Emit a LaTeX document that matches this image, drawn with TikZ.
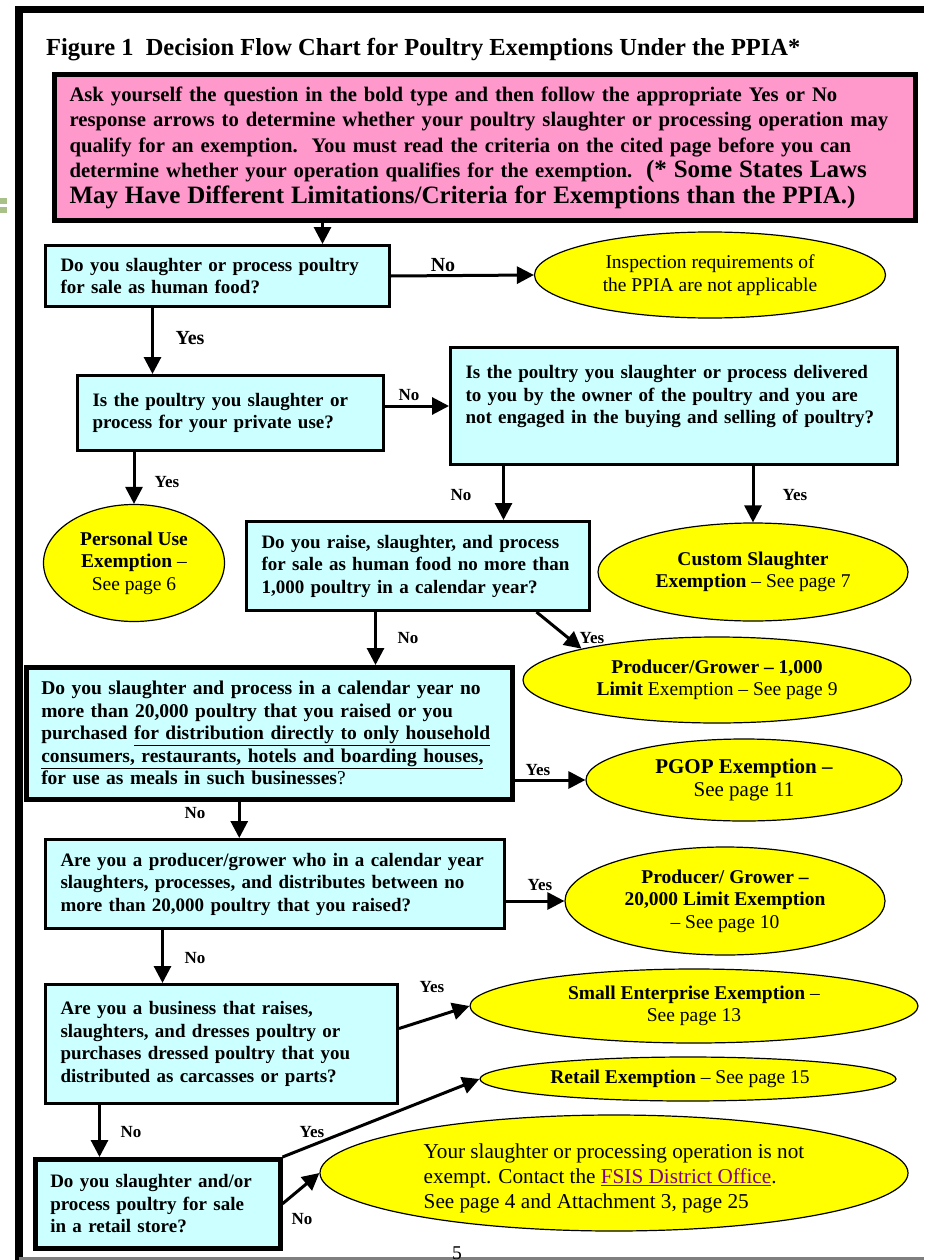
\documentclass[tikz,border=0pt]{standalone}
\usepackage{fontspec}
\setmainfont{Liberation Serif}
\usetikzlibrary{arrows.meta,shapes.geometric}
\definecolor{pinkfill}{HTML}{FF99CC}
\definecolor{cyanfill}{HTML}{CCFFFF}
\definecolor{yellowfill}{HTML}{FFFF00}
\definecolor{linkpurple}{HTML}{800080}
\definecolor{greenmark}{HTML}{A9C089}
\definecolor{frameline}{HTML}{7F7F7F}
\hyphenpenalty=10000
\exhyphenpenalty=10000

\begin{document}
\begin{tikzpicture}[x=1pt,y=-1pt,>={Triangle[length=17pt,width=17pt]}]
%% box shapes and colors
\tikzstyle{question}=[draw=black,line width=3pt,fill=cyanfill,anchor=north west,inner xsep=15pt,inner ysep=0pt,align=left,font=\fontsize{19}{22.5}\selectfont\bfseries]
\tikzstyle{exempt}=[ellipse,draw=black,line width=1.2pt,fill=yellowfill,inner sep=0pt,align=center,font=\fontsize{19.5}{22.5}\selectfont]
\tikzstyle{answer}=[inner sep=0pt,font=\fontsize{17}{17}\selectfont\bfseries]
\tikzstyle{arrow}=[->,line width=3pt]
\useasboundingbox (0,0) rectangle (924,1260);
%PAGE
\fill[greenmark] (0,198) rectangle (7,204);
\fill[greenmark] (0,207) rectangle (7,213);
\draw[line width=7pt] (15,9.5) -- (924,9.5);
\draw[line width=8pt] (19,6) -- (19,1260);
\draw[frameline,line width=3pt] (19,1258.5) -- (924,1258.5);
\node[anchor=north,inner sep=0pt,font=\fontsize{19.5}{20}\selectfont] (pagenum) at (457,1247) {5};
%%%%%%%%%%%%%%%%%%%%%%%%%%%%%%%%%%%%%%%%%%%%%%%%%%%%%%%%%%%%%%%%%%%%%%%%
%TITLE
\node[anchor=west,inner sep=0pt,font=\fontsize{24.5}{26}\selectfont\bfseries] (title) at (46,50)
  {Figure 1\ \ Decision Flow Chart for Poultry Exemptions Under the PPIA*};
\node[draw=black,line width=5pt,fill=pinkfill,anchor=north west,minimum width=861pt,minimum height=146pt,text width=831pt,inner xsep=15pt,inner ysep=0pt,align=left,font=\fontsize{20.7}{25.5}\selectfont\bfseries] (intro) at (52,72)
  {Ask yourself the question in the bold type and then follow the appropriate Yes or No\\
   response arrows to determine whether your poultry slaughter or processing operation may\\
   qualify for an exemption.\ \ You must read the criteria on the cited page before you can\\
   determine whether your operation qualifies for the exemption.\ \ {\fontsize{25}{25.5}\selectfont(* Some States Laws}\\
   {\fontsize{25}{25.5}\selectfont May Have Different Limitations/Criteria for Exemptions than the PPIA.)}};

%%%%%%%%%%%%%%%%%%%%%%%%%%%%%%%%%%%%%%%%%%%%%%%%%%%%%%%%%%%%%%%%%%%%%%%%
%QUESTIONS
\node[question,minimum width=344pt,minimum height=61pt,text width=314pt] (question1) at (44,244)
  {Do you slaughter or process poultry\\ for sale as human food?};
\node[question,minimum width=306pt,minimum height=75pt,text width=276pt] (question2) at (76,374)
  {Is the poultry you slaughter or\\ process for your private use?};
\node[question,minimum width=447pt,minimum height=117pt,text width=417pt] (question3) at (449,346)
  {Is the poultry you slaughter or process delivered\\ to you by the owner of the poultry and you are\\ not engaged in the buying and selling of poultry?\\ \mbox{}};
\node[question,minimum width=343pt,minimum height=89pt,text width=313pt] (question4) at (245,520)
  {Do you raise, slaughter, and process\\ for sale as human food no more than\\ 1,000 poultry in a calendar year?};
\node[question,line width=4.5pt,minimum width=486pt,minimum height=132pt,text width=456pt,font=\fontsize{19.5}{22.5}\selectfont\bfseries] (question5) at (24,665)
  {Do you slaughter and process in a calendar year no\\ more than 20,000 poultry that you raised or you\\ purchased \underline{for distribution directly to only household}\\ \underline{consumers, restaurants, hotels and boarding houses,}\\ for use as meals in such businesses{\mdseries ?}};
\node[question,minimum width=459pt,minimum height=89pt,text width=429pt] (question6) at (44,838)
  {Are you a producer/grower who in a calendar year\\ slaughters, processes, and distributes between no\\ more than 20,000 poultry that you raised?};
\node[question,minimum width=352pt,minimum height=119pt,text width=322pt] (question7) at (44,983)
  {Are you a business that raises,\\ slaughters, and dresses poultry or\\ purchases dressed poultry that you\\ distributed as carcasses or parts?};
\node[question,line width=4.5pt,minimum width=245pt,minimum height=89pt,text width=215pt] (question8) at (33,1157)
  {Do you slaughter and/or\\ process poultry for sale\\ in a retail store?};

%%%%%%%%%%%%%%%%%%%%%%%%%%%%%%%%%%%%%%%%%%%%%%%%%%%%%%%%%%%%%%%%%%%%%%%%
%EXEMPTIONS
\node[exempt,minimum width=351pt,minimum height=86pt] (exempt0) at (710,275)
  {Inspection requirements of\\ the PPIA are not applicable};
\node[exempt,minimum width=181pt,minimum height=117pt] (exempt1) at (134,563)
  {\textbf{Personal Use}\\ \textbf{Exemption} --\\ See page 6};
\node[exempt,minimum width=310pt,minimum height=98pt] (exempt2) at (753,572)
  {\textbf{Custom Slaughter}\\ \textbf{Exemption} -- See page 7};
\node[exempt,minimum width=388pt,minimum height=86pt] (exempt3) at (717,680)
  {\textbf{Producer/Grower -- 1,000}\\ \textbf{Limit} Exemption -- See page 9};
\node[exempt,minimum width=316pt,minimum height=82pt,font=\fontsize{21}{23}\selectfont] (exempt4) at (744,780)
  {\textbf{PGOP Exemption --}\\ See page 11};
\node[exempt,minimum width=320pt,minimum height=108pt] (exempt5) at (725,901)
  {\textbf{Producer/ Grower --}\\ \textbf{20,000 Limit Exemption}\\ -- See page 10};
\node[exempt,minimum width=448pt,minimum height=74pt] (exempt6) at (694,1006)
  {\textbf{Small Enterprise Exemption} --\\ See page 13};
\node[exempt,minimum width=416pt,minimum height=44pt] (exempt7) at (688,1079)
  {\textbf{Retail Exemption} -- See page 15\hspace{16pt}};
\node[exempt,minimum width=588pt,minimum height=116pt,align=left,font=\fontsize{21.2}{25}\selectfont] (exempt8) at (614,1173)
  {\rule{0pt}{26pt}Your slaughter or processing operation is not\\ exempt. Contact the \textcolor{linkpurple}{\underline{FSIS District Office}}.\\ See page 4 and Attachment 3, page 25};

%%%%%%%%%%%%%%%%%%%%%%%%%%%%%%%%%%%%%%%%%%%%%%%%%%%%%%%%%%%%%%
%ARROWS
\draw[arrow] ([xshift=-162.5pt]intro.south) -- ([xshift=-162.5pt]intro.south |- question1.north);
%1
\draw[arrow] (question1.east) -- (exempt0.west);
\draw[arrow] ([xshift=-65pt]question1.south) -- ([xshift=-65pt]question1.south |- question2.north);
%2
\draw[arrow] (question2.east |- question3.west) -- (question3.west);
\draw[arrow] (exempt1.north |- question2.south) -- (exempt1.north);
%3
\draw[arrow] ([xshift=-170.5pt]question3.south) -- ([xshift=-170.5pt]question3.south |- question4.north);
\draw[arrow] (exempt2.north |- question3.south) -- (exempt2.north);
%4
\draw[arrow] ([xshift=-42.5pt]question4.south) -- ([xshift=-42.5pt]question4.south |- question5.north);
\draw[arrow] ([xshift=118.5pt]question4.south) -- (exempt3.167);
%5
\draw[arrow] (question5.east |- exempt4.west) -- (exempt4.west);
\draw[arrow] ([xshift=-30pt]question5.south) -- ([xshift=-30pt]question5.south |- question6.north);
%6
\draw[arrow] (question6.east |- exempt5.west) -- (exempt5.west);
\draw[arrow] ([xshift=-112.5pt]question6.south) -- ([xshift=-112.5pt]question6.south |- question7.north);
%7
\draw[arrow] ([yshift=15.5pt]question7.east) -- (exempt6.west);
\draw[arrow] ([xshift=-122pt]question7.south) -- ([xshift=-122pt]question7.south |- question8.north);
%8
\draw[arrow] (question8.north east) -- (exempt7.west);
\draw[arrow] (question8.east) -- (exempt8.west);

%%%%%%%%%%%%%%%%%%%%%%%%%%%%%%%%%%%%%%%%%%%%%%%%%%%%%%%%%%%%%%
% YES / NO
\node[answer,font=\fontsize{20}{20}\selectfont\bfseries] (no1) at (443,265) {No};
\node[answer,font=\fontsize{20}{20}\selectfont\bfseries] (yes1) at (190,338) {Yes};
\node[answer] (no2) at (409,395) {No};
\node[answer] (yes2) at (167,482) {Yes};
\node[answer] (no3) at (461,495) {No};
\node[answer] (yes3) at (795,495) {Yes};
\node[answer] (no4) at (408,638) {No};
\node[answer] (yes4) at (592,638) {Yes};
\node[answer] (yes5) at (538,770) {Yes};
\node[answer] (no5) at (195,813) {No};
\node[answer] (yes6) at (540,885) {Yes};
\node[answer] (no6) at (195,958) {No};
\node[answer] (yes7) at (432,987) {Yes};
\node[answer] (no7) at (131,1132) {No};
\node[answer] (yes8) at (312,1132) {Yes};
\node[answer] (no8) at (302,1219) {No};
\end{tikzpicture}
\end{document}
